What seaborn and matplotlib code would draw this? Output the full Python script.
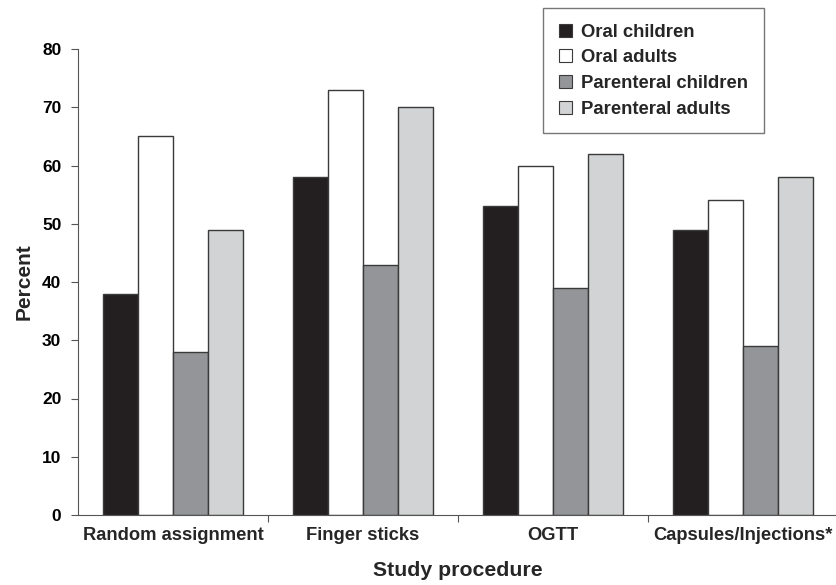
import matplotlib
matplotlib.use("Agg")
import matplotlib.pyplot as plt
import seaborn as sns
import pandas as pd
from matplotlib.ticker import FixedLocator
from matplotlib.patches import Patch

categories = ["Random assignment", "Finger sticks", "OGTT", "Capsules/Injections*"]
series = ["Oral children", "Oral adults", "Parenteral children", "Parenteral adults"]
oral_children = [38, 58, 53, 49]
oral_adults = [65, 73, 60, 54]
parenteral_children = [28, 43, 39, 29]
parenteral_adults = [49, 70, 62, 58]
colors = ["#231f20", "#ffffff", "#939598", "#d1d3d4"]

rows = []
for s, vals in zip(series, [oral_children, oral_adults, parenteral_children, parenteral_adults]):
    for c, v in zip(categories, vals):
        rows.append({"Study procedure": c, "Group": s, "Percent": v})
df = pd.DataFrame(rows)

sns.set_style("ticks")
plt.rcParams["font.family"] = ["Liberation Sans", "DejaVu Sans"]
plt.rcParams["font.weight"] = "bold"

fig = plt.figure(figsize=(8.37, 5.85), dpi=100)
ax = fig.add_axes([78 / 837, 1 - 515 / 585, 760 / 837, (515 - 49) / 585])

sns.barplot(data=df, x="Study procedure", y="Percent", hue="Group",
            order=categories, hue_order=series, palette=colors,
            width=0.737, gap=0, edgecolor="#3a3a3a", linewidth=1.0,
            saturation=1, errorbar=None, ax=ax, legend=False)

ax.set_ylim(0, 80)
ax.set_xlim(-0.5, 3.5)
ax.set_yticks(range(0, 81, 10))
ax.tick_params(axis="y", labelsize=12.5, length=5, width=0.8, colors="#555555", labelcolor="black", pad=7)
ax.tick_params(axis="x", which="major", length=0, labelsize=13.2, pad=9)
ax.xaxis.set_minor_locator(FixedLocator([0.5, 1.5, 2.5, 3.5]))
ax.tick_params(axis="x", which="minor", length=5, width=0.8, colors="#555555")
for lbl in ax.get_xticklabels() + ax.get_yticklabels():
    lbl.set_fontweight("bold")
ax.set_xlabel("Study procedure", fontsize=15.3, fontweight="bold", labelpad=12)
ax.set_ylabel("Percent", fontsize=15, fontweight="bold", labelpad=6)
for sp in ["top", "right"]:
    ax.spines[sp].set_visible(False)
for sp in ["left", "bottom"]:
    ax.spines[sp].set_color("#555555")
    ax.spines[sp].set_linewidth(0.8)

handles = [Patch(facecolor=c, edgecolor="#3a3a3a", linewidth=0.8) for c in colors]
leg = fig.legend(handles, series, loc="upper left",
                 bbox_to_anchor=(543 / 837, 1 - 8 / 585),
                 frameon=True, fancybox=False, fontsize=13.3,
                 handlelength=0.7, handleheight=0.7, handletextpad=0.5,
                 labelspacing=0.47, borderpad=0.85, borderaxespad=0)
leg.get_frame().set_edgecolor("#555555")
leg.get_frame().set_linewidth(1.0)
for t in leg.get_texts():
    t.set_fontweight("bold")

fig.savefig("out.png", dpi=100)
